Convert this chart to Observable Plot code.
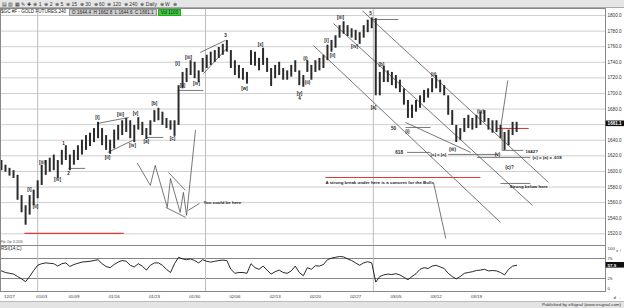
<!DOCTYPE html>
<html><head><meta charset="utf-8">
<script src="https://cdn.jsdelivr.net/npm/d3@7"></script>
<script src="https://cdn.jsdelivr.net/npm/@observablehq/plot@0.6"></script>
<style>
body{margin:0;background:#fff;font-family:"Liberation Sans",Arial,sans-serif;}
#wrap{position:relative;width:624px;height:308px;overflow:hidden;background:#fff;}
#toolbar{position:absolute;left:0;top:0;width:624px;height:8px;background:#e6e6e6;border-bottom:1px solid #aaa;box-sizing:border-box;font-size:5px;line-height:8px;color:#333;white-space:nowrap;padding-left:2px;}
#hdr{position:absolute;left:1px;top:9px;height:6px;font-size:4.6px;line-height:6px;color:#222;white-space:nowrap;z-index:3;}
#hdr span{display:inline-block;vertical-align:top;}
.gbox{background:#cfcfcf;border:1px solid #999;padding:0 2px;margin-left:3px;height:5px;line-height:5px;}
.vbox{background:#3ccf3c;border:1px solid #2a2;padding:0 2px;margin-left:1px;height:5px;line-height:5px;}
#price,#rsi{position:absolute;left:0;}
#price{top:8px;}
#rsi{top:245px;}
#rsilab{position:absolute;left:1px;top:246px;font-size:4.6px;color:#222;z-index:3;}
#opt{position:absolute;left:1px;top:240px;font-size:3px;color:#444;z-index:3;}
#foot{position:absolute;left:0;top:301px;width:624px;height:7px;background:#e4e4e4;border-top:1px solid #bbb;box-sizing:border-box;font-size:4.4px;line-height:6px;color:#333;text-align:right;padding-right:3px;}
</style></head>
<body><div id="wrap">
<div id="toolbar">▤ ▥ ▦ ✎ ✚ &nbsp;⊕ 1 &nbsp;⊕ 2 &nbsp;⊕ 5 &nbsp;⊕ 15 &nbsp;⊕ 30 &nbsp;⊕ 60 &nbsp;⊕ 120 &nbsp;⊕ 240 &nbsp;⊕ Daily &nbsp;⊕ W &nbsp;⊕</div>
<div id="hdr"><span>$GC #F - GOLD FUTURES,240</span><span class="gbox">O 1644.4 &nbsp;H 1662.8 &nbsp;L 1644.6 &nbsp;C 1661.1</span><span class="vbox">Vol 1100</span></div>
<div id="price"></div>
<div id="opt">Fib. Opt. 8-2016</div>
<div id="rsilab">RSI(14,C)</div>
<div id="rsi"></div>
<div id="foot">Published by eSignal (www.esignal.com)</div>
</div>
<script>
// ---- data ----
const startDay = -1;      // first 240-min bar (trading-day index, 12/27 = 0)
const barStep = 0.5;      // bars every half trading day
const barHigh = [
1614,1608,1604,1601,1595,1569,1556,1569,1576,1588,
1608,1614,1617,1621,1614,1627,1633,1621,1627,1633,
1640,1646,1649,1655,1663,1655,1646,1640,1653,1659,
1665,1668,1665,1659,1669,1663,1655,1665,1678,1681,
1676,1668,1665,1665,1710,1727,1732,1742,1740,1729,
1745,1749,1753,1755,1759,1763,1768,1755,1742,1736,
1732,1727,1755,1753,1745,1758,1745,1732,1736,1740,
1732,1729,1736,1742,1729,1723,1742,1736,1742,1745,
1749,1762,1768,1774,1787,1792,1787,1783,1781,1778,
1787,1794,1797,1796,1727,1735,1729,1727,1723,1717,
1706,1691,1685,1691,1697,1704,1706,1719,1723,1717,
1710,1697,1678,1659,1655,1668,1672,1668,1672,1676,
1678,1668,1665,1665,1659,1650,1653,1663,1663];
const barLow = [
1601,1599,1594,1591,1563,1547,1531,1544,1556,1565,
1582,1595,1599,1601,1591,1608,1614,1601,1608,1614,
1621,1627,1632,1637,1642,1633,1627,1622,1629,1640,
1646,1650,1642,1637,1653,1646,1641,1646,1663,1665,
1659,1655,1653,1645,1659,1706,1714,1723,1719,1714,
1727,1732,1736,1740,1745,1749,1753,1732,1723,1719,
1717,1712,1736,1735,1729,1736,1727,1709,1719,1723,
1717,1717,1721,1727,1710,1708,1727,1717,1727,1729,
1732,1742,1753,1758,1771,1776,1773,1771,1768,1763,
1771,1778,1783,1697,1697,1714,1714,1710,1706,1701,
1685,1668,1668,1676,1681,1688,1694,1701,1706,1701,
1697,1672,1659,1637,1640,1650,1655,1653,1655,1659,
1663,1653,1649,1650,1642,1627,1633,1646,1650];
const rsiValues = [
44,40,38,36,30,24,17,30,45,58,
62,64,63,62,56,62,64,55,60,63,
66,67,68,70,72,62,55,52,60,66,
70,68,58,54,62,56,46,58,64,64,
58,48,40,62,78,74,72,74,70,64,
72,68,66,68,70,71,70,48,38,40,
40,38,62,52,48,56,46,36,42,46,
40,38,44,56,40,32,52,48,57,56,
60,72,76,78,80,79,74,70,64,58,
64,67,64,16,30,34,36,35,37,34,
28,22,30,37,48,52,50,56,58,54,
50,38,30,24,30,38,40,42,45,46,
48,44,45,44,40,34,48,56,58];
const lastPrice = 1661.1;
const lastRsiLabel = "57.9";

const dateLabels = ["12/27","01/03","01/09","01/16","01/23","01/30","02/06","02/13","02/20","02/27","03/05","03/12","03/19"];
const dateDays   = [0,4,8,13,18,23,28,33,38,43,48,53,58];
const monthDays  = [3.5,24.35,45.2];
const priceTicks = [1800,1780,1760,1740,1720,1700,1680,1660,1640,1620,1600,1580,1560,1540,1520];
const rsiTicks   = [100,75,25,0];
const rsiBands   = [75,25];

// wave labels: text, day, price
const waveText  = ["[i]","[ii]","[iii]","[iv]","1","2","[i]","[ii]","[iii]","[iv]","[v]","[a]","[b]","[c]",
  "[i]","[ii]","[iii]","[iv]","3","[w]","[x]","[y]","4","(i)","(ii)","[i]","[ii]","[iii]","[iv]","5",
  "[a]","[b]","(i)","(ii)","(iii)","(iv)","(v)","(c)?","50","618"];
const waveDay   = [2.48,3.23,4.1,5.96,6.7,7.33,10.93,12.17,13.79,15.28,15.65,17.0,18.0,20.25,
  20.87,21.5,22.24,23.23,26.83,29.19,31.18,36.02,36.02,36.77,37.02,39.38,40.12,41.12,42.86,44.84,
  45.22,46.21,49.44,52.67,55.03,58.51,60.62,62.11,47.7,48.4];
const wavePrice = [1577,1555,1612,1590,1636,1597,1669,1618,1673,1633,1674,1638,1687,1642,
  1738,1710,1746,1713,1774,1706,1763,1700,1694,1745,1714,1768,1749,1797,1760,1803,
  1682,1737,1651,1724,1628,1677,1622,1605,1655,1624];

// notes: text, day, price (left-anchored)
const noteText  = ["[c] = [a]","1642?","(c) = (a) x .618","Strong below here","A strong break under here is a concern for the Bulls","You could be here"];
const noteDay   = [52.3,64.1,64.97,62.11,39.25,24.1];
const notePrice = [1622,1626,1618,1580,1586,1560];

// annotation segments [day1, price1, day2, price2]
const grayLines = [
  [37.76,1761.5,61.0,1534.6],[40.25,1789.7,64.97,1556.4],[43.85,1806,66.96,1585.9],
  [45.1,1794.9,48.3,1794.9],[49.2,1656.4,52.3,1656.4],[49.2,1662.8,57.3,1624.4],
  [49.4,1624.4,52.3,1624.4],[54.5,1621.8,60.6,1621.8],[61.2,1656.4,61.2,1627],
  [61.2,1627,63.85,1627],[58.1,1618,64.7,1618],[61.0,1584.6,64.7,1584.6],
  [61.0,1655,61.9,1716.7],[52.7,1584.6,54.2,1514],[7.3,1603.9,9.4,1603.9],
  [10.9,1661.5,14.8,1669.2],[12.2,1624.4,15.3,1639.8],[16.9,1643.6,19.1,1643.6],
  [20.9,1703.9,24.1,1703.9],[23.7,1752.6,26.8,1768],[24.1,1725.6,27.1,1759],
  [19.75,1598.7,21.86,1575.7],[19.4,1553.9,21.9,1541],[22.2,1550,23.6,1559]];
const redLines = [[39.25,1592.3,58.5,1592.3],[60.6,1655.1,64.5,1655.1],[1.86,1520.5,14.2,1520.5]];
const zigDays   = [15.9,17.5,18.1,19.6,20.0,21.2,21.6,22.0,23.1];
const zigPrices = [1610.3,1582.1,1607.7,1553.9,1591.0,1547.4,1573.1,1543.6,1652.6];

// ---- build tables ----
const bars = barHigh.map((h,i)=>({d:startDay+barStep*i, high:h, low:barLow[i]}));
const rsi = rsiValues.map((v,i)=>({d:startDay+barStep*i, v}));
const waves = waveText.map((t,i)=>({t, d:waveDay[i], p:wavePrice[i]}));
const notes = noteText.map((t,i)=>({t, d:noteDay[i], p:notePrice[i]}));
const seg = a => a.map(([x1,y1,x2,y2])=>({x1,y1,x2,y2}));
const zig = zigDays.map((d,i)=>({d, p:zigPrices[i]}));

const xDomain = [-1.118, 74.04];
const font = "Liberation Sans, Arial, sans-serif";

const price = Plot.plot({
  width:624, height:237, marginLeft:0, marginRight:19, marginTop:0, marginBottom:0,
  x:{domain:xDomain, axis:null},
  y:{domain:[1505,1809], axis:null},
  style:{background:"transparent", fontFamily:font, fontSize:"5px", overflow:"visible"},
  marks:[
    Plot.ruleY(priceTicks, {stroke:"#cfcfcf", strokeWidth:1}),
    Plot.ruleX(monthDays, {stroke:"#bdbdbd", strokeWidth:1}),
    Plot.link(seg(grayLines), {x1:"x1", y1:"y1", x2:"x2", y2:"y2", stroke:"#555", strokeWidth:0.8}),
    Plot.line(zig, {x:"d", y:"p", stroke:"#555", strokeWidth:0.8}),
    Plot.link(seg(redLines), {x1:"x1", y1:"y1", x2:"x2", y2:"y2", stroke:"#e03a3a", strokeWidth:1.1}),
    Plot.ruleX(bars, {x:"d", y1:"low", y2:"high", stroke:"#2b2b2b", strokeWidth:2}),
    Plot.text(waves, {x:"d", y:"p", text:"t", fontSize:4.6, fontWeight:"bold", fill:"#222"}),
    Plot.text(notes, {x:"d", y:"p", text:"t", textAnchor:"start", fontSize:4.4, fontWeight:"bold", fill:"#222"}),
    Plot.frame({stroke:"#888", strokeWidth:1}),
    Plot.axisY(priceTicks, {anchor:"right", tickSize:0, tickPadding:2, tickFormat:d=>d.toFixed(1), fontSize:4.6, fill:"#333"}),
    Plot.rect([lastPrice], {x1:74.12, x2:76.45, y1:d=>d-3.6, y2:d=>d+3.6, fill:"#111"}),
    Plot.text([lastPrice], {x:74.3, y:d=>d, text:d=>d.toFixed(1), textAnchor:"start", fill:"#fff", fontSize:4.6, fontWeight:"bold"})
  ]
});
document.getElementById("price").appendChild(price);

const rsiChart = Plot.plot({
  width:624, height:56, marginLeft:0, marginRight:19, marginTop:0, marginBottom:10,
  x:{domain:xDomain, axis:null},
  y:{domain:[-7.5,107.5], axis:null},
  style:{background:"transparent", fontFamily:font, fontSize:"5px", overflow:"visible"},
  marks:[
    Plot.ruleY(rsiBands, {stroke:"#777", strokeWidth:0.9}),
    Plot.ruleX(monthDays, {stroke:"#bdbdbd", strokeWidth:1}),
    Plot.line(rsi, {x:"d", y:"v", stroke:"#111", strokeWidth:0.9}),
    Plot.frame({stroke:"#888", strokeWidth:1}),
    Plot.axisY(rsiTicks, {anchor:"right", tickSize:0, tickPadding:2, tickFormat:d=>String(d), fontSize:4.4, fill:"#333"}),
    Plot.rect([rsiValues[rsiValues.length-1]], {x1:74.12, x2:76.45, y1:d=>d-7, y2:d=>d+7, fill:"#111"}),
    Plot.text([rsiValues[rsiValues.length-1]], {x:74.3, y:d=>d, text:()=>lastRsiLabel, textAnchor:"start", fill:"#fff", fontSize:4.4, fontWeight:"bold"}),
    Plot.axisX(dateDays, {anchor:"bottom", tickSize:0, tickPadding:3, tickFormat:d=>dateLabels[dateDays.indexOf(d)], fontSize:4.4, fill:"#333"})
  ]
});
document.getElementById("rsi").appendChild(rsiChart);
</script>
</body></html>
